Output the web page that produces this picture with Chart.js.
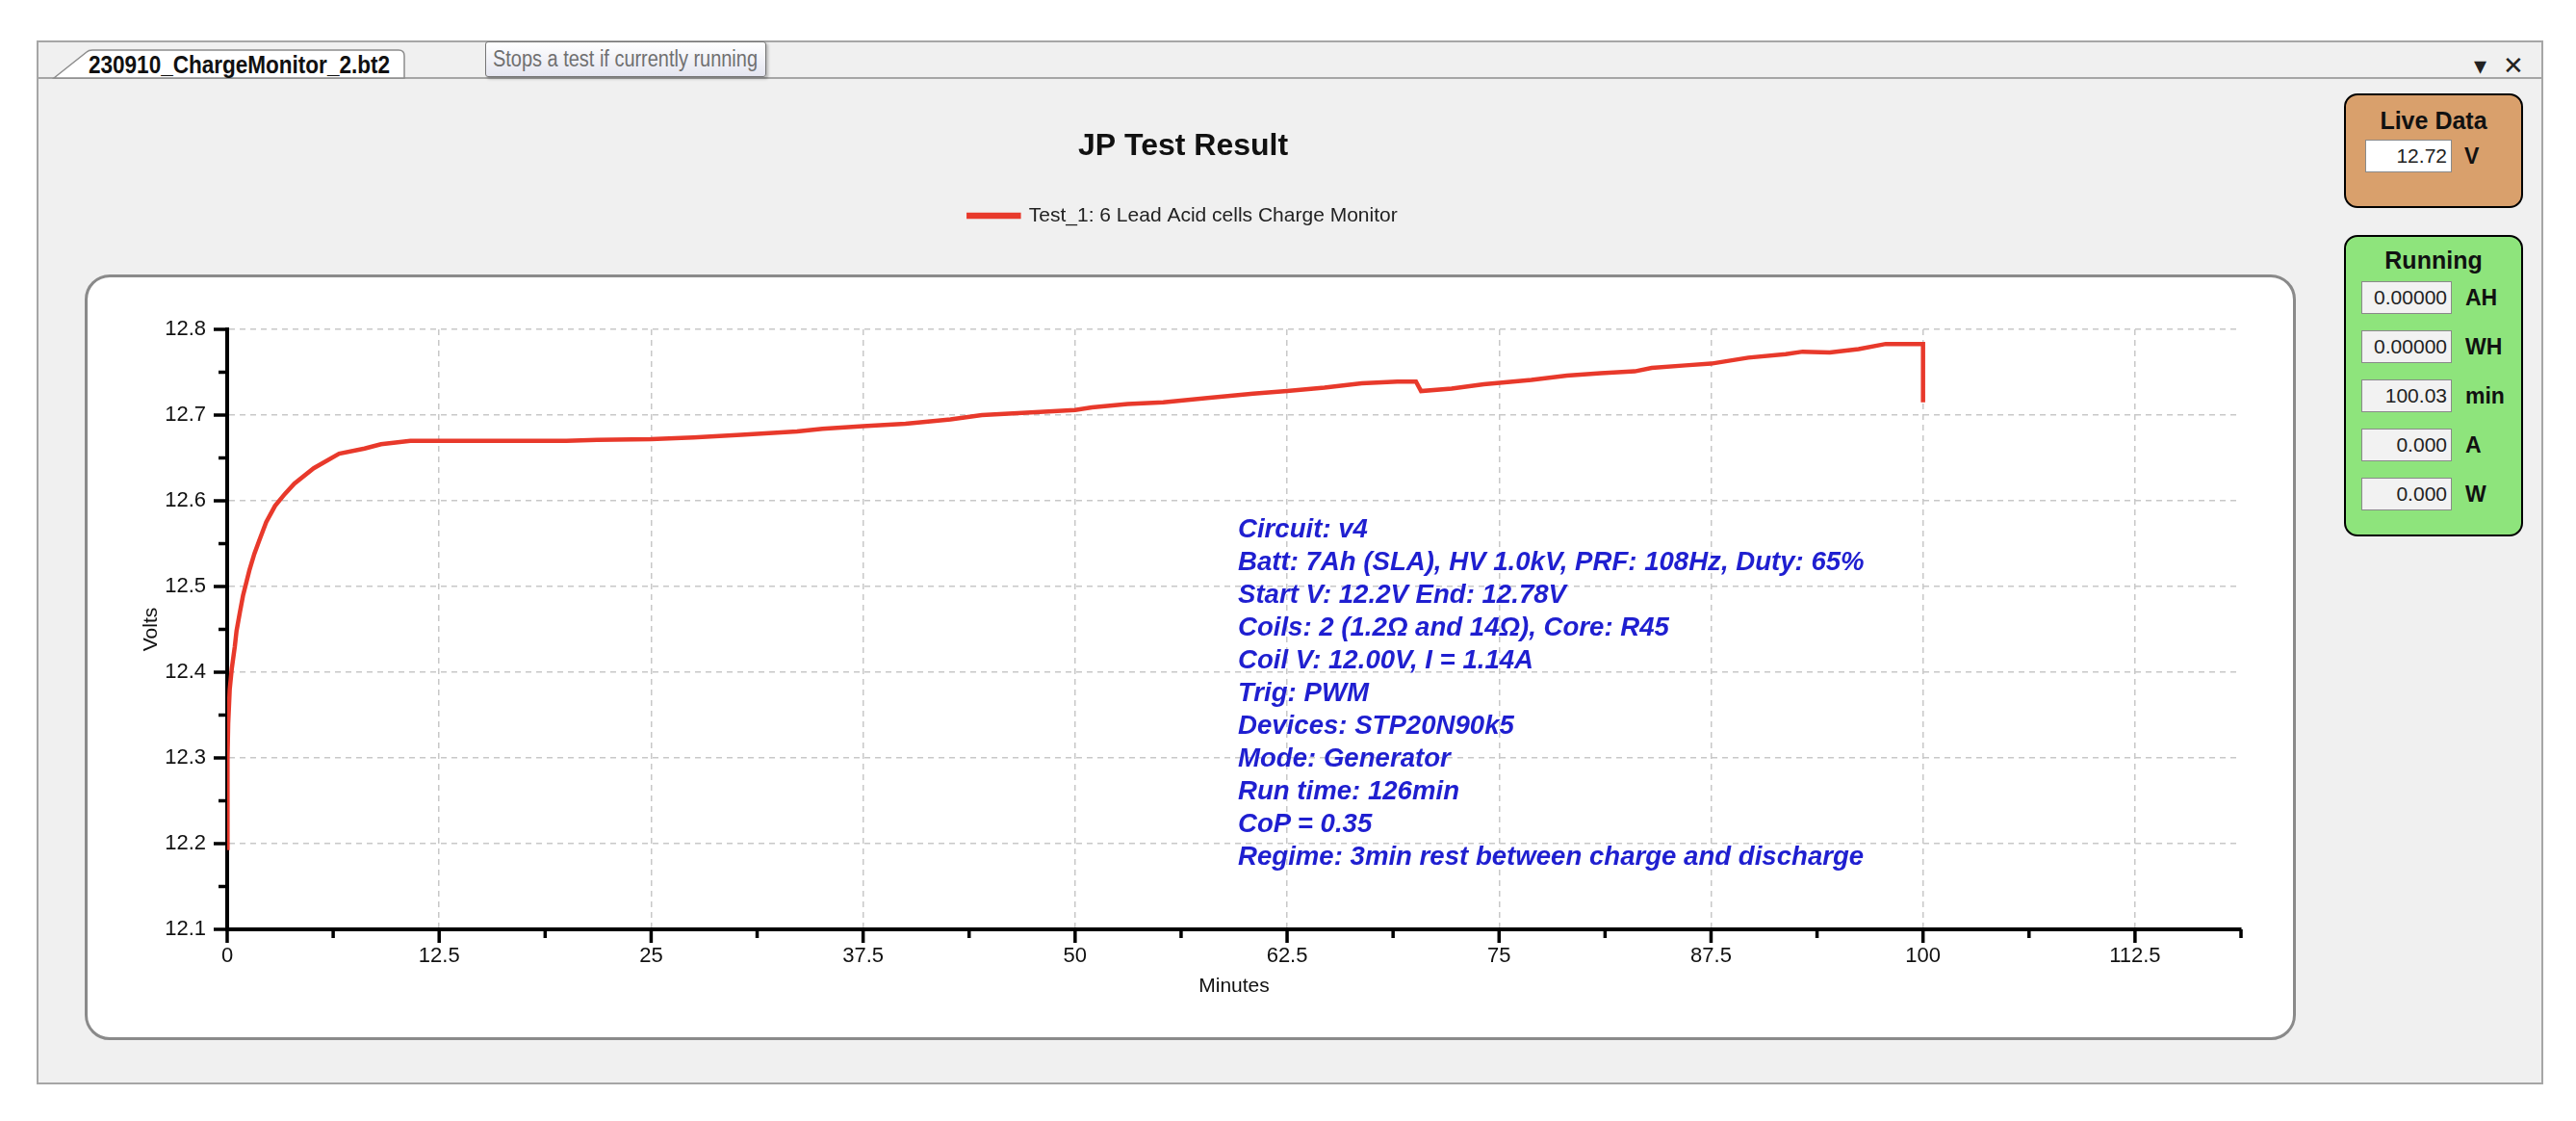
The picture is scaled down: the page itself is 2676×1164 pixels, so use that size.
<!DOCTYPE html>
<html>
<head>
<meta charset="utf-8">
<script src="https://cdn.jsdelivr.net/npm/chart.js@4.4.1/dist/chart.umd.min.js"></script>
<style>
  html, body { margin: 0; padding: 0; background: #fff; }
  body { position: relative; width: 2676px; height: 1164px; overflow: hidden; font-family: "Liberation Sans", Arial, sans-serif; }
  #frame { position: absolute; left: 38px; top: 42px; width: 2600px; height: 1080px; border: 2px solid #a6a6a6; background: #f0f0f0; }
  #tabline { position: absolute; left: 40px; top: 80px; width: 2600px; height: 2px; background: #a6a6a6; }
  #tab { position: absolute; left: 0; top: 0; }
  #tooltip { position: absolute; left: 504px; top: 43px; width: 290px; height: 35px; border: 1px solid #767676; border-radius: 3px;
    background: linear-gradient(#ffffff, #e4e5f0); box-shadow: 2px 2px 3px rgba(0,0,0,0.25); }
  #tooltip svg { position: absolute; left: 0; top: 0; }
  .winbtn { position: absolute; top: 52px; font-size: 26px; color: #222; line-height: 32px; }
  #chartbox { position: absolute; left: 88px; top: 285px; width: 2291px; height: 789px; background: #fff; border: 3px solid #8a8a8a; border-radius: 26px; z-index: 1; }
  #chart { position: absolute; left: 0; top: 0; z-index: 2; }
  #notes { position: absolute; left: 1286px; top: 532px; z-index: 3; color: #1f1fd0; font: italic bold 27.6px "Liberation Sans", Arial, sans-serif; line-height: 34px; white-space: pre; }
  .panel { position: absolute; left: 2435px; width: 182px; border: 2.5px solid #000; border-radius: 14px; z-index: 3; }
  .panel h3 { margin: 0; font: bold 25px "Liberation Sans", Arial, sans-serif; color: #111; text-align: center; }
  .row { position: absolute; height: 34px; }
  .row .box { position: absolute; top: 0; height: 32px; border: 1px solid #8a8a8a; font-size: 21px; line-height: 32px; text-align: right; padding-right: 4px; box-sizing: content-box; color: #222; }
  .row .unit { position: absolute; top: 0; font: bold 23px "Liberation Sans", Arial, sans-serif; line-height: 34px; color: #111; }
</style>
</head>
<body>
<div id="frame"></div>
<div id="tabline"></div>
<svg id="tab" width="500" height="90">
  <path d="M56,81 L90,54 Q92,52 96,52 L414,52 Q420,52 420,58 L420,81 Z" fill="#ffffff" stroke="#8c8c8c" stroke-width="1.5"/>
  <text x="92" y="76" font-family="Liberation Sans, Arial, sans-serif" font-size="25" font-weight="bold" fill="#111" textLength="313" lengthAdjust="spacingAndGlyphs">230910_ChargeMonitor_2.bt2</text>
</svg>
<div id="tooltip">
  <svg width="290" height="35"><text x="7" y="25" font-family="Liberation Sans, Arial, sans-serif" font-size="23" fill="#707070" textLength="275" lengthAdjust="spacingAndGlyphs">Stops a test if currently running</text></svg>
</div>
<div class="winbtn" style="left:2570px">&#9662;</div>
<div class="winbtn" style="left:2600px">&#10005;</div>

<div id="chartbox"></div>
<canvas id="chart" width="2676" height="1164"></canvas>

<div id="notes">Circuit: v4
Batt: 7Ah (SLA), HV 1.0kV, PRF: 108Hz, Duty: 65%
Start V: 12.2V End: 12.78V
Coils: 2 (1.2Ω and 14Ω), Core: R45
Coil V: 12.00V, I = 1.14A
Trig: PWM
Devices: STP20N90k5
Mode: Generator
Run time: 126min
CoP = 0.35
Regime: 3min rest between charge and discharge</div>

<div class="panel" style="top:97px;height:115px;background:#d9a06c;">
  <h3 style="margin-top:12px">Live Data</h3>
  <div class="row" style="left:20px;top:46px">
    <div class="box" style="width:84px;background:#fff">12.72</div>
    <div class="unit" style="left:103px">V</div>
  </div>
</div>

<div class="panel" id="running" style="top:244px;height:309px;background:#8ee47c;">
  <h3 style="margin-top:10px">Running</h3>
</div>

<script>
// chart data
const minutes = [0, 0.02, 0.06, 0.15, 0.27, 0.45, 0.55, 0.75, 0.93, 1.31,
  1.6, 1.88, 2.3, 2.82, 3.4, 3.96, 5.1, 6.6, 8.1, 9.07,
  10.8, 15, 20, 21.8, 25, 27.5, 30.3, 33.6, 35.1, 37.5,
  40, 42.65, 44.5, 47.4, 50, 51, 53.1, 55.2, 57.8, 60.5,
  62.5, 64.7, 66.9, 69, 70.1, 70.4, 72.2, 74.1, 76.9, 79,
  81, 83, 84, 86, 87.5, 89.7, 91.9, 92.9, 94.5, 96.2,
  97.8, 100, 100];
const volts = [12.195, 12.30, 12.34, 12.38, 12.404, 12.43, 12.448, 12.47, 12.489, 12.519,
  12.538, 12.553, 12.575, 12.594, 12.608, 12.62, 12.638, 12.655, 12.661, 12.666,
  12.67, 12.67, 12.67, 12.671, 12.672, 12.674, 12.677, 12.681, 12.684, 12.687,
  12.69, 12.695, 12.70, 12.703, 12.706, 12.709, 12.713, 12.715, 12.72, 12.725,
  12.728, 12.732, 12.737, 12.739, 12.739, 12.728, 12.731, 12.736, 12.741, 12.746,
  12.749, 12.751, 12.755, 12.758, 12.76, 12.767, 12.771, 12.774, 12.773, 12.777,
  12.783, 12.783, 12.715];

const xTickValues = [0, 12.5, 25, 37.5, 50, 62.5, 75, 87.5, 100, 112.5];
const xTickLabels = ["0", "12.5", "25", "37.5", "50", "62.5", "75", "87.5", "100", "112.5"];
const yTickValues = [12.1, 12.2, 12.3, 12.4, 12.5, 12.6, 12.7, 12.8];
const yTickLabels = ["12.1", "12.2", "12.3", "12.4", "12.5", "12.6", "12.7", "12.8"];

const seriesLabel = "Test_1: 6 Lead Acid cells Charge Monitor";

const runningRows = [
  { value: "0.00000", unit: "AH" },
  { value: "0.00000", unit: "WH" },
  { value: "100.03", unit: "min" },
  { value: "0.000", unit: "A" },
  { value: "0.000", unit: "W" }
];

// side panel rows
const running = document.getElementById("running");
runningRows.forEach((r, i) => {
  const row = document.createElement("div");
  row.className = "row";
  row.style.left = "16px";
  row.style.top = (46 + i * 51) + "px";
  row.innerHTML = '<div class="box" style="width:88px;background:#f2f2f2">' + r.value +
    '</div><div class="unit" style="left:108px">' + r.unit + "</div>";
  running.appendChild(row);
});

// where the plot area has to land
const plotLeft = 236, plotRight = 2328, plotTop = 342, plotBottom = 965;
let legendExtra = 88;

const sans = '"Liberation Sans", Arial, sans-serif';
const half = (arr) => arr.slice(0, -1).map((v, i) => (v + arr[i + 1]) / 2);

const xAll = xTickValues.concat(half(xTickValues), [118.75]).sort((a, b) => a - b);
const yAll = yTickValues.concat(half(yTickValues)).sort((a, b) => a - b);

const legendGap = {
  id: "legendGap",
  beforeInit(chart) {
    if (!chart.legend) return;
    const fit = chart.legend.fit;
    chart.legend.fit = function () {
      fit.call(this);
      this.height += legendExtra;
    };
  }
};

const tickMarks = {
  id: "tickMarks",
  afterDraw(chart) {
    const { ctx, chartArea, scales } = chart;
    ctx.save();
    ctx.strokeStyle = "#000";
    ctx.lineWidth = 3.5;
    xAll.forEach((v) => {
      const px = scales.x.getPixelForValue(v);
      const len = xTickValues.includes(v) ? 14 : 9;
      ctx.beginPath();
      ctx.moveTo(px, chartArea.bottom);
      ctx.lineTo(px, chartArea.bottom + len);
      ctx.stroke();
    });
    yAll.forEach((v) => {
      const py = scales.y.getPixelForValue(v);
      const len = yTickValues.some((t) => Math.abs(t - v) < 1e-6) ? 14 : 9;
      ctx.beginPath();
      ctx.moveTo(chartArea.left, py);
      ctx.lineTo(chartArea.left - len, py);
      ctx.stroke();
    });
    ctx.restore();
  }
};

const isMajor = (list, v) => list.findIndex((t) => Math.abs(t - v) < 1e-6);

const chart = new Chart(document.getElementById("chart"), {
  type: "line",
  data: {
    datasets: [{
      label: seriesLabel,
      data: minutes.map((m, i) => ({ x: m, y: volts[i] })),
      borderColor: "#e8392b",
      backgroundColor: "#e8392b",
      borderWidth: 4.5,
      pointRadius: 0,
      tension: 0,
      fill: false
    }]
  },
  options: {
    responsive: false,
    devicePixelRatio: 1,
    animation: false,
    layout: { padding: { left: 130, right: 348, top: 0, bottom: 109 } },
    plugins: {
      title: {
        display: true,
        text: "JP Test Result",
        color: "#111",
        font: { family: sans, size: 32, weight: "bold" },
        padding: { top: 133, bottom: 32 }
      },
      legend: {
        position: "top",
        labels: {
          boxWidth: 52,
          boxHeight: 2,
          color: "#222",
          font: { family: sans, size: 21 }
        }
      },
      tooltip: { enabled: false }
    },
    scales: {
      x: {
        type: "linear",
        min: 0,
        max: 118.75,
        afterBuildTicks: (scale) => { scale.ticks = xAll.map((v) => ({ value: v })); },
        afterFit: (scale) => { scale.height = 90; },
        ticks: {
          autoSkip: false,
          maxRotation: 0,
          padding: 15,
          color: "#111",
          font: { family: sans, size: 22 },
          callback: (v) => { const i = isMajor(xTickValues, v); return i >= 0 ? xTickLabels[i] : ""; }
        },
        grid: {
          drawTicks: false,
          lineWidth: 1.5,
          color: (c) => (c.tick && isMajor(xTickValues, c.tick.value) > 0 ? "#c8c8c8" : "rgba(0,0,0,0)")
        },
        border: { display: true, color: "#000", width: 4, dash: [6, 5] },
        title: {
          display: true,
          text: "Minutes",
          color: "#111",
          font: { family: sans, size: 21 },
          padding: { top: 0, bottom: 18 }
        }
      },
      y: {
        min: 12.1,
        max: 12.8,
        afterBuildTicks: (scale) => { scale.ticks = yAll.map((v) => ({ value: v })); },
        afterFit: (scale) => { scale.width = 106; },
        ticks: {
          autoSkip: false,
          padding: 22,
          color: "#111",
          font: { family: sans, size: 22 },
          callback: (v) => { const i = isMajor(yTickValues, v); return i >= 0 ? yTickLabels[i] : ""; }
        },
        grid: {
          drawTicks: false,
          lineWidth: 1.5,
          color: (c) => (c.tick && isMajor(yTickValues, c.tick.value) > 0 ? "#c8c8c8" : "rgba(0,0,0,0)")
        },
        border: { display: true, color: "#000", width: 4, dash: [6, 5] },
        title: {
          display: true,
          text: "Volts",
          color: "#111",
          font: { family: sans, size: 21 },
          padding: { top: 15, bottom: 0 }
        }
      }
    }
  },
  plugins: [legendGap, tickMarks]
});

// nudge the layout so the plot area sits where the screenshot has it
const area = chart.chartArea;
const pad = chart.options.layout.padding;
legendExtra += plotTop - area.top;
chart.options.layout.padding = {
  left: pad.left + (plotLeft - area.left),
  right: pad.right + (area.right - plotRight),
  top: 0,
  bottom: pad.bottom + (area.bottom - plotBottom)
};
chart.update("none");
</script>
</body>
</html>
